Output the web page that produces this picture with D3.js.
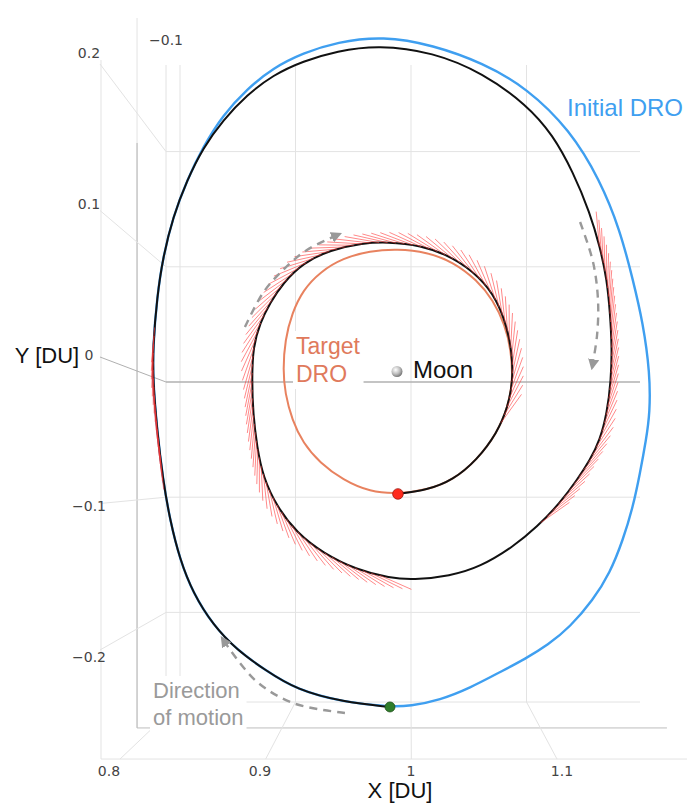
<!DOCTYPE html>
<html><head><meta charset="utf-8">
<script src="https://cdn.jsdelivr.net/npm/d3@7"></script>
<style>body{margin:0;background:#fff}svg{display:block}</style>
</head><body><svg id="c" width="687" height="808"></svg>
<script>
// ---------------- DATA (DU, rotating frame) ----------------
const xTicks = [0.8, 0.9, 1.0, 1.1];
const xTickLabels = ["0.8", "0.9", "1", "1.1"];
const yTicks = [0.2, 0.1, 0, -0.1, -0.2];
const yTickLabels = ["0.2", "0.1", "0", "\u22120.1", "\u22120.2"];
const zTickLabel = "\u22120.1";

const initialDRO = [
  [0.9818,-0.2912],[0.9411,-0.2869],[0.9013,-0.2765],[0.8736,-0.2591],[0.8494,-0.2418],
  [0.8286,-0.2201],[0.8113,-0.1923],[0.8000,-0.1636],[0.7913,-0.1289],[0.7853,-0.0942],
  [0.7801,-0.0508],[0.7766,-0.0074],[0.7766,0.0213],[0.7801,0.0647],[0.7853,0.0994],
  [0.7939,0.1341],[0.8061,0.1662],[0.8199,0.1949],[0.8372,0.2227],[0.8580,0.2452],
  [0.8805,0.2635],[0.9065,0.2765],[0.9359,0.2860],[0.9758,0.2912],[1.0190,0.2834],
  [1.0623,0.2678],[1.1004,0.2461],[1.1377,0.2096],[1.1636,0.1662],[1.1810,0.1228],
  [1.1922,0.0794],[1.2009,0.0421],[1.2069,-0.0013],[1.2069,-0.0360],[1.2035,-0.0595],
  [1.1983,-0.0881],[1.1922,-0.1176],[1.1835,-0.1463],[1.1723,-0.1749],[1.1576,-0.1984],
  [1.1377,-0.2218],[1.1186,-0.2374],[1.0987,-0.2496],[1.0771,-0.2609],[1.0511,-0.2747],
  [1.0251,-0.2852],[0.9991,-0.2904]
];

const targetDRO = [
  [0.9887,-0.1063],[0.9645,-0.1046],[0.9411,-0.0942],[0.9212,-0.0794],[0.9065,-0.0621],
  [0.8970,-0.0421],[0.8909,-0.0187],[0.8892,0.0013],[0.8909,0.0273],[0.8970,0.0508],
  [0.9065,0.0707],[0.9212,0.0864],[0.9411,0.0985],[0.9645,0.1046],[0.9879,0.1063],
  [1.0139,0.1037],[1.0364,0.0951],[1.0571,0.0794],[1.0710,0.0621],[1.0814,0.0404],
  [1.0866,0.0187],[1.0883,-0.0074],[1.0840,-0.0308],[1.0745,-0.0534],[1.0571,-0.0768],
  [1.0364,-0.0942],[1.0139,-0.1029]
];

const transfer = [
  [0.9818,-0.2912],[0.9411,-0.2869],[0.9013,-0.2765],[0.8736,-0.2591],[0.8494,-0.2418],
  [0.8286,-0.2201],[0.8113,-0.1923],[0.8000,-0.1636],[0.7913,-0.1289],[0.7853,-0.0942],
  [0.7801,-0.0508],[0.7766,-0.0074],[0.7766,0.0213],[0.7801,0.0647],[0.7853,0.0994],
  [0.7939,0.1341],[0.8061,0.1662],[0.8199,0.1940],[0.8372,0.2183],[0.8580,0.2400],
  [0.8805,0.2574],[0.9065,0.2695],[0.9359,0.2782],[0.9714,0.2834],[1.0190,0.2773],
  [1.0623,0.2591],[1.1004,0.2313],[1.1229,0.2053],[1.1403,0.1732],[1.1550,0.1376],
  [1.1636,0.1081],[1.1697,0.0794],[1.1723,0.0508],[1.1740,0.0213],[1.1732,-0.0074],
  [1.1697,-0.0360],[1.1636,-0.0595],[1.1550,-0.0768],[1.1437,-0.0942],[1.1290,-0.1142],
  [1.1091,-0.1350],[1.0883,-0.1523],[1.0597,-0.1697],[1.0338,-0.1775],[1.0017,-0.1810],
  [0.9818,-0.1793],[0.9532,-0.1723],[0.9238,-0.1576],[0.9013,-0.1402],[0.8840,-0.1176],
  [0.8719,-0.0916],[0.8667,-0.0655],[0.8632,-0.0360],[0.8623,-0.0074],[0.8632,0.0213],
  [0.8693,0.0421],[0.8779,0.0595],[0.8892,0.0768],[0.9065,0.0942],[0.9299,0.1055],
  [0.9584,0.1115],[0.9792,0.1124],[1.0078,0.1098],[1.0364,0.0994],[1.0597,0.0820],
  [1.0745,0.0621],[1.0831,0.0386],[1.0874,0.0169],[1.0883,-0.0074],[1.0840,-0.0308],
  [1.0745,-0.0534],[1.0571,-0.0768],[1.0364,-0.0942],[1.0139,-0.1029],[0.9887,-0.1063]
];

const moonPos = [0.98785, 0];
const departure = transfer[0];
const arrival = transfer[transfer.length - 1];

// thrust arcs along the transfer: [from, to] (in direction of motion)
const thrustArcs = [
  [[0.7810,-0.0726],[0.7783,0.0447]],
  [[1.1671,0.1098],[1.1091,-0.1350]],
  [[0.9732,-0.1749],[1.0771,-0.0490]]
];
const thrustTiltDeg = [1, 9, 11];

const motionArrows = [
  [[0.8562,0.0386],[0.8718,0.0681],[0.8892,0.0881],[0.9099,0.1055],[0.9385,0.1194]],
  [[1.1464,0.1298],[1.1576,0.0950],[1.1619,0.0621],[1.1611,0.0317],[1.1567,0.0030]],
  [[0.9428,-0.2964],[0.8978,-0.2878],[0.8649,-0.2678],[0.8363,-0.2313]]
];

// ---------------- SCALES ----------------
const x = d3.scaleLinear().domain([0.8, 1.2]).range([180, 642]);       // trajectory & back-plane x
const y = d3.scaleLinear().domain([-0.3, 0.3]).range([717.1, 25.9]);   // trajectory plane y
const gy = d3.scaleLinear().domain([-0.3, 0.3]).range([727.6, 36.4]);  // back grid plane y
const lx = d3.scaleLinear().domain([0.8, 1.1]).range([109, 562]);      // x tick labels (front)
const ly = d3.scaleLinear().domain([-0.2, 0.2]).range([657, 53]);      // y tick labels (front)
const cx = d3.scaleLinear().domain([0.8, 1.1]).range([120, 557]);      // x connectors front end
const cy = d3.scaleLinear().domain([-0.2, 0.2]).range([650, 64]);      // y connectors front end

// box extents (DU in the scene)
const bx0 = 0.7879, bx1 = 1.1983, by0 = -0.2778, by1 = 0.2752;
const frameX = 0.7628, frameY = -0.3003, frameTop = 0.3160, frameDarkTop = 0.2075, frameRight = 1.2216;
const frontX = 0.7316, frontY = -0.3273, frontTop = 0.2795, frontRight = 1.24;

const svg = d3.select("#c");
const defs = svg.append("defs");
const mg = defs.append("radialGradient").attr("id", "mg").attr("cx", "38%").attr("cy", "35%").attr("r", "70%");
mg.append("stop").attr("offset", "0%").attr("stop-color", "#ffffff");
mg.append("stop").attr("offset", "55%").attr("stop-color", "#bdbdbd");
mg.append("stop").attr("offset", "100%").attr("stop-color", "#6e6e6e");
defs.append("marker").attr("id", "ah").attr("viewBox", "0 0 10 10")
  .attr("refX", 8).attr("refY", 5).attr("markerWidth", 4.6).attr("markerHeight", 4.6)
  .attr("orient", "auto").append("path").attr("d", "M0,0L10,5L0,10z").attr("fill", "#999");

const gGrid = svg.append("g");
const gBg = svg.append("g");
const gOrb = svg.append("g");
const gTxt = svg.append("g");

function seg(g, x1, y1, x2, y2, col, w) {
  g.append("line").attr("x1", x1).attr("y1", y1).attr("x2", x2).attr("y2", y2)
    .attr("stroke", col).attr("stroke-width", w || 1);
}
const light = "#e3e3e3";

// front edges
seg(gGrid, x(frontX), gy(frontTop), x(frontX), gy(frontY), light);
seg(gGrid, x(frontX), gy(frontY), x(frontRight), gy(frontY), light);
// frame lines
seg(gGrid, x(frameX), gy(frameTop), x(frameX), gy(frameDarkTop), light);
seg(gGrid, x(frameX), gy(frameDarkTop), x(frameX), gy(frameY), "#a8a8a8");
seg(gGrid, x(frameX), gy(frameY), x(frameRight), gy(frameY), "#bdbdbd");
// back plane grid
seg(gGrid, x(bx0), gy(by1), x(bx0), gy(by0), light);
xTicks.forEach(v => seg(gGrid, x(v), gy(by1), x(v), gy(by0), light));
yTicks.forEach(v => { if (v !== 0) seg(gGrid, x(bx0), gy(v), x(bx1), gy(v), light); });
seg(gGrid, x(bx0), gy(by0), x(bx1), gy(by0), light);
// connectors
xTicks.forEach(v => seg(gGrid, cx(v), gy(frontY), x(v), gy(by0), light));
yTicks.forEach(v => seg(gGrid, x(frontX) - 1, cy(v), x(bx0), gy(v), v === 0 ? "#b0b0b0" : light));
seg(gGrid, x(bx0), gy(0), x(bx1), gy(0), "#b0b0b0", 1.4);

// ---------------- ORBITS ----------------
const closedLine = d3.line().x(d => x(d[0])).y(d => y(d[1])).curve(d3.curveBasisClosed);
const openLine = d3.line().x(d => x(d[0])).y(d => y(d[1])).curve(d3.curveBasis);
const arrowLine = d3.line().x(d => x(d[0])).y(d => y(d[1])).curve(d3.curveCatmullRom.alpha(0.5));

gOrb.append("path").attr("d", closedLine(initialDRO)).attr("fill", "none")
  .attr("stroke", "#3f9ff0").attr("stroke-width", 2.4);
gOrb.append("path").attr("d", closedLine(targetDRO)).attr("fill", "none")
  .attr("stroke", "#e8825f").attr("stroke-width", 2);
const tp = gOrb.append("path").attr("d", openLine(transfer)).attr("fill", "none")
  .attr("stroke", "#111").attr("stroke-width", 2);

// thrust vectors sampled along the transfer path
const node = tp.node();
const total = node.getTotalLength();
const samples = d3.range(0, total, 1).map(s => { const p = node.getPointAtLength(s); return { s, x: p.x, y: p.y }; });
function nearestS(pt) {
  const px = x(pt[0]), py = y(pt[1]);
  return d3.least(samples, d => (d.x - px) ** 2 + (d.y - py) ** 2).s;
}
const gThr = gOrb.append("g").attr("stroke", "#ff3b3b").attr("stroke-opacity", 0.6).attr("stroke-width", 1);
const thrustLen = 35, thrustStep = 8.5;
thrustArcs.forEach((arc, i) => {
  const s0 = nearestS(arc[0]), s1 = nearestS(arc[1]);
  const th = thrustTiltDeg[i] * Math.PI / 180;
  for (let s = s0; s <= s1; s += thrustStep) {
    const p = node.getPointAtLength(s);
    const a = node.getPointAtLength(Math.max(0, s - 1)), b = node.getPointAtLength(Math.min(total, s + 1));
    let tx = b.x - a.x, ty = b.y - a.y; const n = Math.hypot(tx, ty); tx /= n; ty /= n;
    const nx = ty, ny = -tx;
    const dx = -tx * Math.cos(th) + nx * Math.sin(th), dy = -ty * Math.cos(th) + ny * Math.sin(th);
    gThr.append("line").attr("x1", p.x).attr("y1", p.y)
      .attr("x2", p.x + thrustLen * dx).attr("y2", p.y + thrustLen * dy);
  }
});

// motion arrows
motionArrows.forEach(a => {
  gOrb.append("path").attr("d", arrowLine(a)).attr("fill", "none")
    .attr("stroke", "#999").attr("stroke-width", 2.4).attr("stroke-dasharray", "8,6")
    .attr("marker-end", "url(#ah)");
});

// points
gOrb.append("circle").attr("cx", x(departure[0])).attr("cy", y(departure[1])).attr("r", 5)
  .attr("fill", "#2f7d2a").attr("stroke", "#1f4f1c").attr("stroke-width", 0.8);
gOrb.append("circle").attr("cx", x(arrival[0])).attr("cy", y(arrival[1])).attr("r", 5.3)
  .attr("fill", "#ff2a1c").attr("stroke", "#a01810").attr("stroke-width", 0.8);
gOrb.append("circle").attr("cx", x(moonPos[0])).attr("cy", y(moonPos[1])).attr("r", 5.5)
  .attr("fill", "url(#mg)");

// ---------------- TEXT ----------------
const sans = "'Liberation Sans', Arial, Helvetica, sans-serif";
const tick = "'DejaVu Sans', Verdana, sans-serif";

xTicks.forEach((v, i) => gTxt.append("text").attr("x", lx(v)).attr("y", 776).attr("text-anchor", "middle")
  .attr("font-family", tick).attr("font-size", 14).attr("fill", "#444").text(xTickLabels[i]));
yTicks.forEach((v, i) => gTxt.append("text").attr("x", 89).attr("y", ly(v) + 5).attr("text-anchor", "middle")
  .attr("font-family", tick).attr("font-size", 14).attr("fill", "#444").text(yTickLabels[i]));
gTxt.append("text").attr("x", 166).attr("y", 45).attr("text-anchor", "middle")
  .attr("font-family", tick).attr("font-size", 14).attr("fill", "#444").text(zTickLabel);

gTxt.append("text").attr("x", 47).attr("y", 363).attr("text-anchor", "middle")
  .attr("font-family", sans).attr("font-size", 22).attr("fill", "#111").text("Y [DU]");
gTxt.append("text").attr("x", 400).attr("y", 798).attr("text-anchor", "middle")
  .attr("font-family", sans).attr("font-size", 22).attr("fill", "#111").text("X [DU]");

function multi(lines, xx, yy, lh, size, col) {
  const t = gTxt.append("text").attr("x", xx).attr("y", yy).attr("font-family", sans)
    .attr("font-size", size).attr("fill", col);
  lines.forEach((l, i) => t.append("tspan").attr("x", xx).attr("dy", i ? lh : 0).text(l));
  return t;
}
multi(["Initial DRO"], 567, 116, 0, 24, "#3f9ff0");
multi(["Moon"], 413, 378, 0, 24, "#111");
const tTarget = multi(["Target", "DRO"], 296, 354, 28, 23, "#e07a5c");
const tDir = multi(["Direction", "of motion"], 153, 698, 27, 22, "#9a9a9a");

[tTarget, tDir].forEach(t => {
  const b = t.node().getBBox();
  gBg.append("rect").attr("x", b.x - 3).attr("y", b.y - 2).attr("width", b.width + 6)
    .attr("height", b.height + 4).attr("fill", "#fff");
});
</script></body></html>
